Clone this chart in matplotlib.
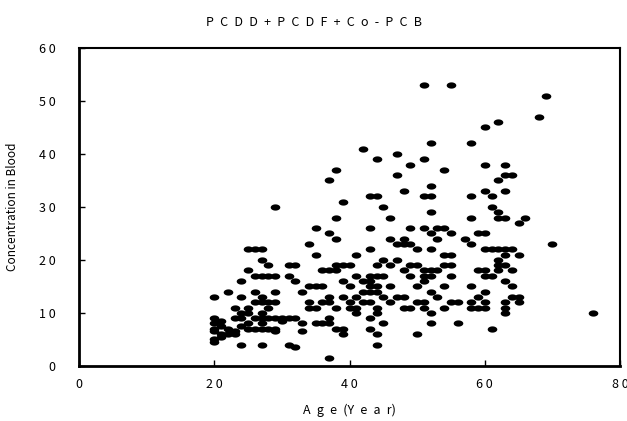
import matplotlib
matplotlib.use("Agg")
import matplotlib.pyplot as plt
from matplotlib.path import Path
import numpy as np

# data (age, concentration)
age = ([20]*7 + [21]*4 + [22]*3 + [23]*4 + [24]*6 + [25]*6 + [26]*6 + [27]*10 +
       [28]*6 + [29]*7 + [30]*2 + [31]*4 + [32]*4 + [33]*3 + [34]*4 + [35]*5 +
       [36]*4 + [37]*8 + [38]*7 + [39]*6 + [40]*4 + [41]*5 + [42]*4 + [43]*10 +
       [44]*10 + [45]*5 + [46]*5 + [47]*5 + [48]*6 + [49]*6 + [50]*5 + [51]*9 +
       [52]*11 + [53]*4 + [54]*6 + [55]*6 + [56]*2 + [57]*1 + [58]*7 + [59]*4 +
       [60]*10 + [61]*5 + [62]*8 + [63]*11 + [64]*5 + [65]*4 + [66, 68, 69, 70, 76])
conc = [13, 9, 8, 7, 6.5, 5, 4.5,
        8.5, 7.5, 6, 5.5,
        14, 7, 6,
        11, 9, 6.5, 6,
        16, 13, 10, 9, 7.5, 4,
        22, 18, 11, 10, 8, 7,
        22, 17, 14, 12, 9, 7,
        22, 20, 17, 13, 12, 10, 9, 8, 7, 4,
        19, 17, 12, 11, 9, 7,
        30, 17, 14, 12, 9, 7, 6.5,
        9, 8.5,
        19, 17, 9, 4,
        19, 16, 9, 3.5,
        14, 8, 6.5,
        23, 15, 12, 11,
        26, 21, 15, 11, 8,
        18, 15, 12, 8,
        35, 25, 18, 13, 12, 9, 8, 1.5,
        37, 28, 24, 19, 18, 11, 7,
        31, 19, 16, 13, 7, 6,
        19, 15, 12, 11,
        21, 17, 13, 11, 10,
        41, 16, 14, 12,
        32, 26, 22, 17, 16, 15, 14, 12, 9, 7,
        39, 32, 19, 17, 15, 14, 11, 10, 6, 4,
        30, 20, 17, 13, 8,
        28, 24, 19, 15, 12,
        40, 36, 23, 20, 13,
        33, 24, 23, 18, 13, 11,
        38, 26, 23, 19, 17, 11,
        22, 19, 15, 12, 6,
        53, 39, 32, 26, 18, 17, 16, 12, 11,
        42, 34, 32, 29, 25, 22, 18, 17, 14, 10, 8,
        26, 24, 18, 13,
        37, 26, 21, 19, 15, 11,
        53, 25, 21, 19, 17, 12,
        12, 8,
        24,
        42, 32, 28, 23, 15, 12, 11,
        25, 18, 13, 11,
        45, 38, 33, 25, 22, 18, 17, 14, 12, 11,
        32, 30, 22, 17, 7,
        46, 35, 29, 28, 22, 20, 19, 18,
        38, 36, 33, 28, 22, 21, 19, 16, 12, 11, 10,
        36, 22, 18, 15, 13,
        27, 21, 13, 12,
        28, 47, 51, 23, 10]

xticks = [0, 20, 40, 60, 80]
yticks = [0, 10, 20, 30, 40, 50, 60]

def spaced(s, sp="\u2002"):
    return sp.join(s)

fam = ["Noto Sans CJK JP", "DejaVu Sans"]

# flat ellipse marker
t = np.linspace(0, 2*np.pi, 40)
ell = Path(np.column_stack([np.cos(t), 0.65*np.sin(t)]), closed=True)

fig = plt.figure(figsize=(6.27, 4.21), dpi=100)
ax = fig.add_axes([0.126, 0.131, 0.863, 0.755])

ax.scatter(age, conc, marker=ell, s=48, color="black", linewidths=0)

ax.set_xlim(0, 80)
ax.set_ylim(0, 60)
ax.set_xticks(xticks)
ax.set_yticks(yticks)
ax.set_xticklabels([spaced(str(v), " ") for v in xticks], family=fam, fontsize=9)
ax.set_yticklabels([spaced(str(v), " ") for v in yticks], family=fam, fontsize=9)
ax.tick_params(direction="in", length=4, width=1)
ax.tick_params(axis="x", pad=9)
ax.tick_params(axis="y", pad=17)
for s in ["left", "bottom"]:
    ax.spines[s].set_linewidth(2)
for s in ["right", "top"]:
    ax.spines[s].set_linewidth(1.5)

ax.set_xlabel(spaced("Age") + "\u2002(" + spaced("Year") + ")", family=fam, fontsize=9, labelpad=9)
ax.set_ylabel("Concentration in Blood", family=fam, fontsize=8.5, labelpad=14)
fig.text(0.5, 0.947, spaced("PCDD+PCDF+Co-PCB"), family=fam, fontsize=9, ha="center", va="center")

fig.savefig("out.png", dpi=100)
